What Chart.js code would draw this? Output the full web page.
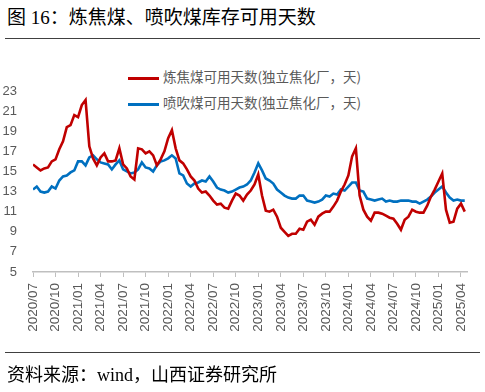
<!DOCTYPE html>
<html>
<head>
<meta charset="utf-8">
<script src="https://cdn.jsdelivr.net/npm/chart.js@4"></script>
<style>
  html, body { margin: 0; padding: 0; background: #fff; }
  #wrap { position: relative; width: 485px; height: 392px; overflow: hidden; }
  #titulo { position: absolute; left: 7px; top: 2px; font: 19px "Liberation Serif", "Noto Sans CJK SC", serif; color: #000; white-space: nowrap; }
  .regua { position: absolute; left: 5px; width: 475px; height: 0; border-top: 1.5px solid #404040; }
  #fonte { position: absolute; left: 7px; top: 360px; font: 18px "Liberation Serif", "Noto Sans CJK SC", serif; color: #000; white-space: nowrap; }
  .leg { position: absolute; left: 128px; font: 13.5px "Noto Sans CJK SC", sans-serif; color: #595959; white-space: nowrap; }
  .leg i { display: inline-block; width: 31px; height: 3px; vertical-align: middle; margin-right: 4px; }
  canvas { position: absolute; left: 0; top: 0; }
</style>
</head>
<body>
<div id="wrap">
  <div id="titulo">图 16：炼焦煤、喷吹煤库存可用天数</div>
  <div class="regua" style="top:38px"></div>
  <div class="leg" id="leg-1" style="top:66px"></div>
  <div class="leg" id="leg-2" style="top:92px"></div>
  <canvas id="grafico" width="485" height="392"></canvas>
  <div class="regua" style="top:352px"></div>
  <div id="fonte">资料来源：wind，山西证券研究所</div>
</div>
<script>
// dados: um ponto a cada meio mês, a partir de 2020/07
const anoInicial = 2020;
const mesInicial = 7;

const nomeSeries = ['炼焦煤可用天数(独立焦化厂，天)', '喷吹煤可用天数(独立焦化厂，天)'];
const coresSeries = ['#C00000', '#0070C0'];

const ticksY = [5, 7, 9, 11, 13, 15, 17, 19, 21, 23];

const coque = [
  15.7, 15.4, 15.1, 15.3, 15.4, 16.0, 16.2, 17.2, 18.0, 19.4,
  19.6, 20.6, 20.4, 21.6, 22.1, 17.5, 16.3, 15.6, 16.4, 16.8,
  16.0, 16.0, 16.1, 17.3, 15.7, 15.3, 14.5, 14.2, 17.3, 17.2,
  16.8, 17.0, 16.6, 15.6, 16.2, 17.0, 18.3, 19.1, 17.3, 16.1,
  15.8, 15.2, 14.5, 14.1, 13.3, 12.9, 13.0, 12.6, 12.1, 11.7,
  11.8, 11.4, 11.3, 12.1, 12.8, 12.6, 12.1, 12.7, 13.1, 13.7,
  14.7, 12.6, 11.1, 11.0, 11.2, 10.5, 9.4, 9.0, 8.6, 8.8,
  8.8, 9.3, 9.2, 10.0, 10.2, 9.7, 10.5, 10.8, 11.0, 11.0,
  11.5, 12.1, 13.0, 13.7, 14.6, 16.5, 17.3, 12.6, 11.2, 10.5,
  10.1, 10.9, 10.9, 10.8, 10.6, 10.4, 10.3, 9.8, 9.2, 10.2,
  10.5, 11.2, 11.0, 10.9, 10.9, 11.6, 12.5, 13.2, 14.0, 14.8,
  11.2, 9.9, 10.0, 11.3, 11.8, 11.0
];

const injecao = [
  13.2, 13.5, 13.0, 12.9, 13.0, 13.5, 13.3, 14.1, 14.5, 14.6,
  14.9, 15.1, 16.0, 16.0, 15.6, 16.4, 16.6, 16.2, 15.9, 15.8,
  15.7, 15.2, 15.7, 16.1, 15.2, 15.0, 14.8, 14.9, 15.2, 15.9,
  15.4, 15.3, 15.0, 15.6, 16.0, 16.1, 16.3, 16.6, 16.3, 14.8,
  14.6, 13.8, 13.5, 13.8, 13.9, 14.1, 14.0, 14.5, 14.0, 13.4,
  13.2, 13.1, 12.9, 13.0, 13.2, 13.4, 13.5, 13.7, 14.1, 14.9,
  15.8, 15.1, 14.3, 14.1, 13.8, 13.2, 12.9, 12.6, 12.4, 12.3,
  12.3, 12.6, 12.6, 12.1, 12.0, 11.9, 12.0, 12.2, 12.6, 12.5,
  12.8, 12.7, 13.2, 13.1, 13.5, 13.9, 13.9, 13.1, 13.0, 12.3,
  12.2, 12.1, 12.2, 12.3, 12.0, 12.1, 12.0, 12.0, 12.1, 12.1,
  12.1, 12.0, 12.0, 11.8, 12.0, 12.2, 12.5, 12.9, 13.2, 13.5,
  12.9, 12.4, 12.1, 12.2, 12.1, 12.1
];

const paraPontos = (valores) => valores.map((v, i) => ({ x: i / 2, y: v }));

const rotuloMes = (m) => {
    const total = (mesInicial - 1) + Math.round(m);
    const ano = anoInicial + Math.floor(total / 12);
    const mes = (total % 12) + 1;
    return `${ano}/${String(mes).padStart(2, '0')}`;
};

// legenda em html, fora do chart
[coque, injecao].forEach((_, i) => {
    const el = document.getElementById(`leg-${i + 1}`);
    el.innerHTML = `<i style="background:${coresSeries[i]}"></i>${nomeSeries[i]}`;
});

const fonteEixoY = { family: '"Liberation Sans", sans-serif', size: 13 };
const fonteEixoX = { family: '"Liberation Sans", sans-serif', size: 13.5 };

new Chart(document.getElementById('grafico').getContext('2d'), {
    type: 'line',
    data: {
        datasets: [
            { label: nomeSeries[0], data: paraPontos(coque), borderColor: coresSeries[0], borderWidth: 2.6, pointRadius: 0, tension: 0 },
            { label: nomeSeries[1], data: paraPontos(injecao), borderColor: coresSeries[1], borderWidth: 2.6, pointRadius: 0, tension: 0 }
        ]
    },
    options: {
        responsive: false,
        animation: false,
        layout: { padding: { top: 91, right: 18, left: 0, bottom: 0 } },
        plugins: { legend: { display: false }, tooltip: { enabled: false } },
        scales: {
            x: {
                type: 'linear',
                min: 0,
                max: 57.8,
                afterBuildTicks: (s) => { s.ticks = []; for (let m = 0; m <= 57; m += 3) s.ticks.push({ value: m }); },
                afterFit: (s) => { s.height = 120; },
                ticks: { callback: (v) => rotuloMes(v), color: '#595959', font: fonteEixoX, maxRotation: 90, minRotation: 90, padding: 6, autoSkip: false },
                grid: { drawOnChartArea: false, drawTicks: true, tickLength: 5, color: '#bfbfbf' },
                border: { color: '#bfbfbf', width: 1.5 }
            },
            y: {
                min: 5,
                max: 23,
                afterBuildTicks: (s) => { s.ticks = ticksY.map(v => ({ value: v })); },
                afterFit: (s) => { s.width = 33; },
                ticks: { color: '#595959', font: fonteEixoY, padding: 8 },
                grid: { display: false },
                border: { display: false }
            }
        }
    }
});
</script>
</body>
</html>
